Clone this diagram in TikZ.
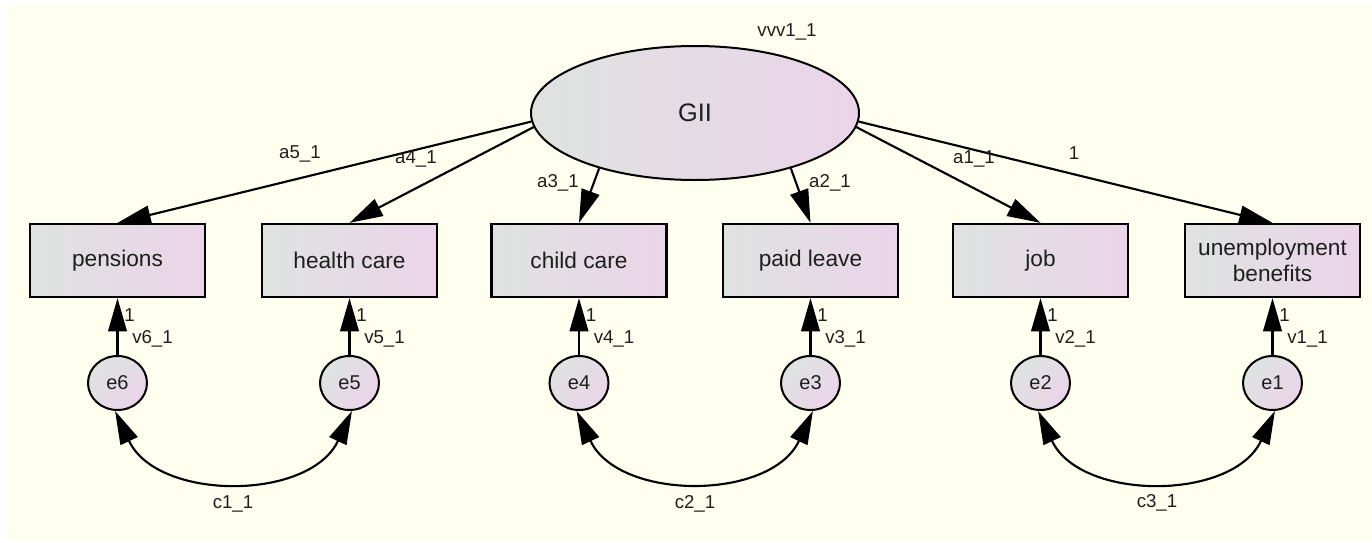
\documentclass[tikz,border=0pt]{standalone}
\usepackage{fontspec}
\setmainfont{Liberation Sans}
\usetikzlibrary{arrows.meta,shapes.geometric}
\definecolor{paper}{HTML}{FFFFF0}
\definecolor{shadeA}{HTML}{DEE3E0}
\definecolor{shadeB}{HTML}{EBD4E9}
\definecolor{ink}{HTML}{1E1E1E}
\begin{document}
\begin{tikzpicture}[x=0.75pt,y=0.75pt,
  obs/.style={draw=black, line width=1.7pt, left color=shadeA, right color=shadeB,
    minimum width=131.25pt, minimum height=54.75pt, inner sep=0pt,
    font=\fontsize{17}{19}\selectfont, text=ink, align=center},
  latent/.style={ellipse, draw=black, line width=1.5pt, left color=shadeA, right color=shadeB,
    minimum width=246pt, minimum height=100.5pt, inner sep=0pt,
    font=\fontsize{19}{21}\selectfont, text=ink},
  err/.style={ellipse, draw=black, line width=1.5pt, left color=shadeA, right color=shadeB,
    shading angle=45, minimum width=44.25pt, minimum height=40.5pt, inner sep=0pt,
    font=\fontsize{15}{17}\selectfont, text=ink},
  tipstyle/.tip={Triangle[length=25pt,width=14pt]},
  reg/.style={line width=1.6pt, -tipstyle},
  cov/.style={line width=1.6pt, tipstyle-tipstyle, looseness=1.08},
  lbl/.style={font=\fontsize{14}{16}\selectfont, text=ink, inner sep=0pt}
]
% canvas
\useasboundingbox (0,0) rectangle (1372,-543);
\fill[white] (0,0) rectangle (1372,-543);
\fill[paper] (8,-5) rectangle (1372,-541);

% latent factor
\node[latent] (gii) at (695,-113) {GII};
\node[lbl] (vvv) at (787,-32) {vvv1\_1};

% observed indicators
\node[obs] (pens) at (117.5,-260.5) {pensions};
\node[obs] (hc)   at (349.5,-260.5) {health care};
\node[obs] (cc)   at (579,-260.5)   {child care};
\node[obs] (pl)   at (810.5,-260.5) {paid leave};
\node[obs] (job)  at (1040.5,-260.5) {job};
\node[obs] (ub)   at (1272.5,-260.5) {unemployment\\benefits};

% error terms
\node[err] (e6) at (117.5,-383) {e6};
\node[err] (e5) at (349.5,-383) {e5};
\node[err] (e4) at (579,-383)   {e4};
\node[err] (e3) at (810.5,-383) {e3};
\node[err] (e2) at (1040.5,-383) {e2};
\node[err] (e1) at (1272.5,-383) {e1};

% loadings
\draw[reg] (gii.183) -- (pens.north);
\draw[reg] (gii.185) -- (hc.north);
\draw[reg] (gii.210) -- (cc.north);
\draw[reg] (gii.330) -- (pl.north);
\draw[reg] (gii.355) -- (job.north);
\draw[reg] (gii.357.5) -- (ub.north);
\node[lbl] (la5) at (300,-154) {a5\_1};
\node[lbl] (la4) at (416,-159) {a4\_1};
\node[lbl] (la3) at (558,-183) {a3\_1};
\node[lbl] (la2) at (830,-183) {a2\_1};
\node[lbl] (la1) at (974,-159) {a1\_1};
\node[lbl] (lfix) at (1074,-153) {1};

% error paths
\foreach \e/\b/\v/\cx in {e6/pens/v6/117.5, e5/hc/v5/349.5, e4/cc/v4/579,
                          e3/pl/v3/810.5, e2/job/v2/1040.5, e1/ub/v1/1272.5}{
  \draw[reg] (\e.north) -- (\b.south);
  \node[lbl] (one-\e) at (\cx+12,-315) {1};
  \node[lbl] (var-\e) at (\cx+35,-339) {\v\_1};
}

% covariances
\draw[cov] (e6.265) to[out=-65,in=-115] (e5.275);
\draw[cov] (e4.265) to[out=-65,in=-115] (e3.275);
\draw[cov] (e2.265) to[out=-65,in=-115] (e1.275);
\node[lbl] (lc1) at (233,-504) {c1\_1};
\node[lbl] (lc2) at (695,-504) {c2\_1};
\node[lbl] (lc3) at (1157,-503) {c3\_1};
\end{tikzpicture}
\end{document}
